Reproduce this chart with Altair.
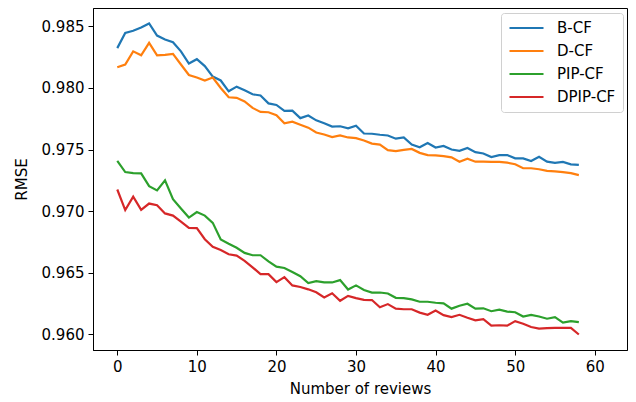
import altair as alt
import pandas as pd

reviews = list(range(59))

b_cf = [0.98324, 0.98447, 0.98465, 0.98492, 0.98524, 0.98426, 0.98394, 0.98372, 0.98298, 0.98199,
        0.98234, 0.98178, 0.98093, 0.98061, 0.97973, 0.98011, 0.97981, 0.97949, 0.97939, 0.97875,
        0.97862, 0.97814, 0.97816, 0.97755, 0.97776, 0.97737, 0.97713, 0.97686, 0.97689, 0.97673,
        0.97694, 0.97630, 0.97628, 0.97620, 0.97614, 0.97588, 0.97598, 0.97540, 0.97518, 0.97553,
        0.97516, 0.97529, 0.97500, 0.97489, 0.97513, 0.97479, 0.97468, 0.97439, 0.97455, 0.97455,
        0.97428, 0.97428, 0.97407, 0.97441, 0.97401, 0.97391, 0.97399, 0.97380, 0.97375]

d_cf = [0.98168, 0.98191, 0.98298, 0.98266, 0.98367, 0.98266, 0.98269, 0.98277, 0.98191, 0.98106,
        0.98085, 0.98061, 0.98085, 0.98000, 0.97925, 0.97920, 0.97891, 0.97838, 0.97806, 0.97803,
        0.97779, 0.97713, 0.97726, 0.97702, 0.97678, 0.97638, 0.97622, 0.97601, 0.97614, 0.97598,
        0.97593, 0.97574, 0.97548, 0.97540, 0.97495, 0.97487, 0.97497, 0.97505, 0.97473, 0.97455,
        0.97452, 0.97447, 0.97436, 0.97401, 0.97425, 0.97401, 0.97401, 0.97399, 0.97399, 0.97393,
        0.97380, 0.97348, 0.97348, 0.97340, 0.97327, 0.97322, 0.97316, 0.97308, 0.97292]

pip_cf = [0.97407, 0.97317, 0.97309, 0.97306, 0.97202, 0.97168, 0.97250, 0.97096, 0.97021, 0.96947,
          0.96992, 0.96963, 0.96904, 0.96769, 0.96734, 0.96702, 0.96660, 0.96641, 0.96641, 0.96591,
          0.96548, 0.96537, 0.96505, 0.96471, 0.96415, 0.96431, 0.96420, 0.96420, 0.96439, 0.96362,
          0.96396, 0.96359, 0.96338, 0.96338, 0.96330, 0.96295, 0.96293, 0.96282, 0.96263, 0.96263,
          0.96255, 0.96250, 0.96207, 0.96231, 0.96247, 0.96207, 0.96210, 0.96186, 0.96199, 0.96183,
          0.96178, 0.96143, 0.96157, 0.96143, 0.96125, 0.96138, 0.96093, 0.96106, 0.96098]

dpip_cf = [0.97175, 0.97008, 0.97117, 0.97010, 0.97061, 0.97048, 0.96981, 0.96963, 0.96915, 0.96864,
           0.96862, 0.96771, 0.96710, 0.96683, 0.96649, 0.96638, 0.96596, 0.96543, 0.96487, 0.96487,
           0.96423, 0.96463, 0.96396, 0.96383, 0.96364, 0.96340, 0.96298, 0.96332, 0.96271, 0.96311,
           0.96293, 0.96279, 0.96277, 0.96218, 0.96244, 0.96207, 0.96202, 0.96202, 0.96175, 0.96157,
           0.96191, 0.96154, 0.96138, 0.96157, 0.96133, 0.96112, 0.96122, 0.96069, 0.96072, 0.96069,
           0.96106, 0.96085, 0.96058, 0.96045, 0.96048, 0.96050, 0.96050, 0.96050, 0.95997]

series_names = ["B-CF", "D-CF", "PIP-CF", "DPIP-CF"]
series_colors = ["#1f77b4", "#ff7f0e", "#2ca02c", "#d62728"]
x_ticks = [0, 10, 20, 30, 40, 50, 60]
y_ticks = [0.960, 0.965, 0.970, 0.975, 0.980, 0.985]

rows = []
for order, (name, vals) in enumerate(zip(series_names, [b_cf, d_cf, pip_cf, dpip_cf])):
    for x, v in zip(reviews, vals):
        rows.append({"reviews": x, "rmse": v, "method": name, "order": order})
df = pd.DataFrame(rows)

FONT = "DejaVu Sans"

chart = alt.Chart(df).mark_line(strokeWidth=2.2, clip=True).encode(
    x=alt.X("reviews:Q",
            scale=alt.Scale(domain=[-3.05, 64.05], nice=False, zero=False),
            axis=alt.Axis(values=x_ticks, title="Number of reviews", grid=False,
                          format="d", tickSize=5, labelPadding=4, titlePadding=7)),
    y=alt.Y("rmse:Q",
            scale=alt.Scale(domain=[0.95871, 0.98650], nice=False, zero=False),
            axis=alt.Axis(values=y_ticks, title="RMSE", grid=False, format=".3f",
                          tickSize=5, labelPadding=4, titlePadding=12)),
    color=alt.Color("method:N",
                    scale=alt.Scale(domain=series_names, range=series_colors),
                    legend=alt.Legend(title=None, orient="none", legendX=408, legendY=5,
                                      symbolType="stroke", symbolSize=1156,
                                      symbolStrokeWidth=2.2, labelFontSize=15,
                                      labelFont=FONT, labelOffset=12, labelColor="black",
                                      clipHeight=16, rowPadding=7, padding=7,
                                      strokeColor="#d0d0d0", fillColor="white",
                                      cornerRadius=3)),
    order=alt.Order("order:Q"),
).properties(
    width=534,
    height=342,
    padding={"left": 85, "top": 0, "right": 1, "bottom": 52},
    autosize=alt.AutoSizeParams(type="none"),
).configure_view(
    stroke="black", strokeWidth=1
).configure_axis(
    labelFont=FONT, titleFont=FONT, labelFontSize=15, titleFontSize=15,
    labelColor="black", titleColor="black", domainColor="black", tickColor="black",
    titleFontWeight="normal", domainWidth=1, tickWidth=1
)

chart.save("out.html", embed_options={"renderer": "svg", "actions": False})
